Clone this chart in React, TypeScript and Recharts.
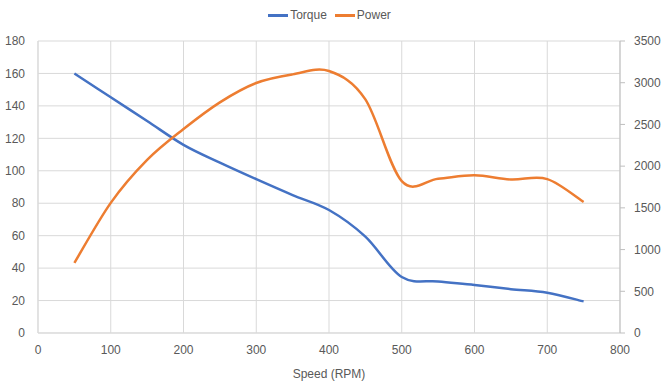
import React from "react"
import { CartesianGrid, Label, Legend, Line, LineChart, XAxis, YAxis } from "recharts"

const rpm = [50, 100, 150, 200, 250, 300, 350, 400, 450, 500, 550, 600, 650, 700, 750]
const torque = [160, 145.3, 130.7, 116, 105, 94.8, 85, 75.8, 59.4, 34.5, 31.8, 29.6, 27, 24.8, 19.5]
const power = [840, 1560, 2075, 2445, 2765, 2997, 3100, 3140, 2800, 1820, 1850, 1890, 1840, 1845, 1570]

const xTicks = [0, 100, 200, 300, 400, 500, 600, 700, 800]
const torqueTicks = [0, 20, 40, 60, 80, 100, 120, 140, 160, 180]
const powerTicks = [0, 500, 1000, 1500, 2000, 2500, 3000, 3500]

const series = [
  { key: "torque", name: "Torque", color: "#4472C4", axis: "left" },
  { key: "power", name: "Power", color: "#ED7D31", axis: "right" },
]

const chartData = rpm.map((speed, i) => ({ speed, torque: torque[i], power: power[i] }))

// excel-like smoothed line (catmull-rom style bezier)
const excelSmooth = (context: any) => {
  let pts: number[][] = []
  return {
    areaStart() {},
    areaEnd() {},
    lineStart() {
      pts = []
    },
    point(x: number, y: number) {
      pts.push([+x, +y])
    },
    lineEnd() {
      const n = pts.length
      if (!n) return
      context.moveTo(pts[0][0], pts[0][1])
      for (let i = 0; i < n - 1; i++) {
        const p0 = pts[Math.max(i - 1, 0)]
        const p1 = pts[i]
        const p2 = pts[i + 1]
        const p3 = pts[Math.min(i + 2, n - 1)]
        context.bezierCurveTo(
          p1[0] + (p2[0] - p0[0]) / 6,
          p1[1] + (p2[1] - p0[1]) / 6,
          p2[0] - (p3[0] - p1[0]) / 6,
          p2[1] - (p3[1] - p1[1]) / 6,
          p2[0],
          p2[1]
        )
      }
    },
  }
}

const font = "'Liberation Sans', Arial, sans-serif"
const textColor = "#595959"
const gridColor = "#D9D9D9"

function LegendContent() {
  return (
    <div style={{ height: 41, display: "flex", justifyContent: "center", paddingTop: 5, boxSizing: "border-box" }}>
      {series.map(s => (
        <div key={s.key} style={{ display: "flex", alignItems: "center", height: 20, marginRight: 8 }}>
          <div style={{ width: 20, height: 3, background: s.color, marginRight: 2 }} />
          <span style={{ fontFamily: font, fontSize: 12, color: textColor }}>{s.name}</span>
        </div>
      ))}
    </div>
  )
}

export default function App() {
  return (
    <div style={{ position: "fixed", left: 0, top: 0, width: 667, height: 387, background: "#fff" }}>
      <LineChart width={667} height={387} data={chartData} margin={{ top: 0, right: 0, bottom: 0, left: 0 }}>
        <Legend verticalAlign="top" align="center" content={<LegendContent />} />
        <CartesianGrid stroke={gridColor} vertical horizontal yAxisId="left" />
        <XAxis
          dataKey="speed"
          type="number"
          domain={[0, 800]}
          ticks={xTicks}
          height={54}
          tickLine={false}
          tickSize={6}
          tickMargin={6}
          axisLine={{ stroke: gridColor }}
          tick={{ fill: textColor, fontSize: 12, fontFamily: font }}
        >
          <Label value="Speed (RPM)" position="insideBottom" offset={9} fill={textColor} fontSize={12} fontFamily={font} />
        </XAxis>
        <YAxis
          yAxisId="left"
          domain={[0, 180]}
          ticks={torqueTicks}
          width={38}
          tickLine={false}
          tickSize={6}
          tickMargin={7}
          axisLine={{ stroke: gridColor }}
          tick={{ fill: textColor, fontSize: 12, fontFamily: font }}
        />
        <YAxis
          yAxisId="right"
          orientation="right"
          domain={[0, 3500]}
          ticks={powerTicks}
          width={47}
          tickLine={{ stroke: "#BFBFBF" }}
          tickSize={5}
          tickMargin={9}
          axisLine={{ stroke: "#BFBFBF" }}
          tick={{ fill: textColor, fontSize: 12, fontFamily: font, textAnchor: "start" }}
        />
        {series.map(s => (
          <Line
            key={s.key}
            yAxisId={s.axis}
            dataKey={s.key}
            name={s.name}
            type={excelSmooth as any}
            stroke={s.color}
            strokeWidth={2.5}
            dot={false}
            activeDot={false}
            isAnimationActive={false}
          />
        ))}
      </LineChart>
    </div>
  )
}
